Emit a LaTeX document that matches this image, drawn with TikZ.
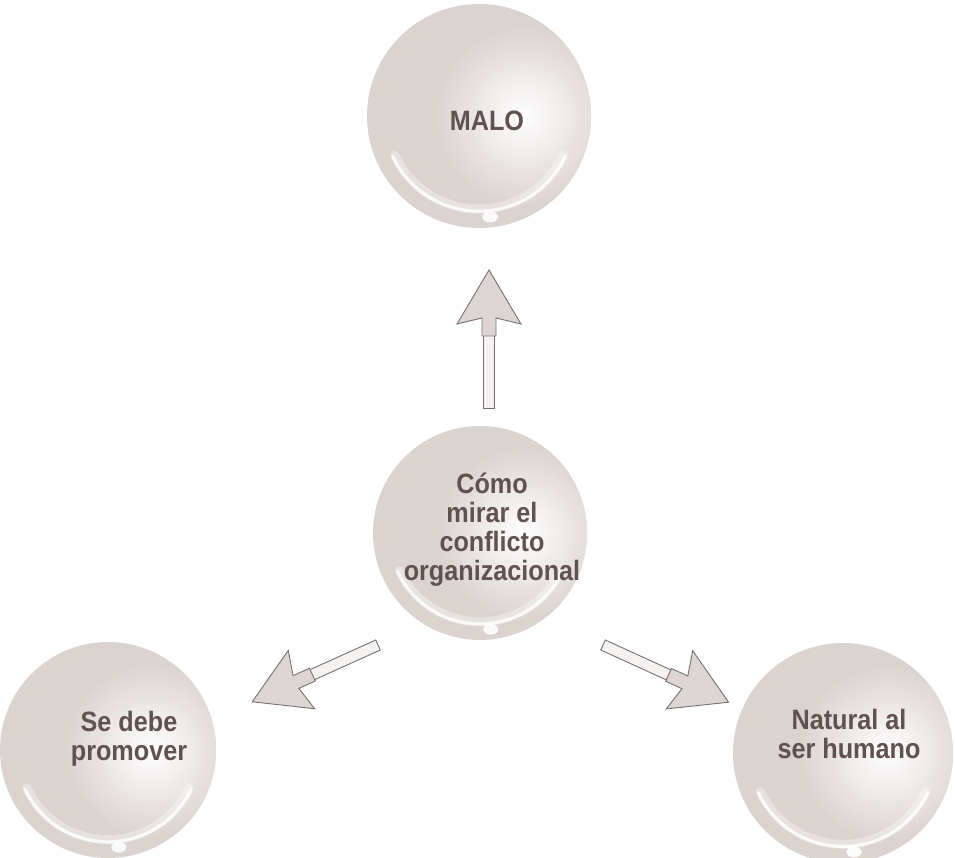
\documentclass[tikz,border=0pt]{standalone}
\usepackage{fontspec}
\setmainfont{Liberation Sans}[FakeStretch=0.9]
\usetikzlibrary{calc}
\definecolor{spherebase}{RGB}{219,211,208}
\definecolor{txt}{RGB}{96,82,80}
\definecolor{arrowline}{RGB}{120,112,112}
\definecolor{shaftfill}{RGB}{245,242,241}
\definecolor{headfill}{RGB}{220,213,211}
\newcommand\spheredeco[2]{%
  \begin{scope}
    \clip (#1) circle[radius=#2];
    \shade[inner color=white, outer color=spherebase] ($(#1)+(0.40*#2,0.0*#2)$) circle[radius=0.8*#2];
    \draw[white, line width=9pt, opacity=.35, line cap=round] ($(#1)+(205:0.83*#2)$) arc[start angle=205, end angle=335, radius=0.83*#2];
    \draw[white, line width=3pt, opacity=.85, line cap=round] ($(#1)+(205:0.85*#2)$) arc[start angle=205, end angle=335, radius=0.85*#2];
    \fill[white, opacity=.9] ($(#1)+(0.1*#2,-0.9*#2)$) ellipse[x radius=0.07*#2, y radius=0.05*#2];
  \end{scope}}
\tikzset{
  sphere/.style={circle, fill=spherebase, inner sep=0pt, minimum size=#1},
  lbl/.style={font=\fontsize{28}{29}\selectfont\bfseries, text=txt, align=center, inner sep=0pt},
  arrowedge/.style={draw=arrowline, line width=0.9pt, line join=miter},
  blockarrow/.pic={
    \draw[arrowedge, fill=shaftfill] (0,-5.5) -- (73,-5.5) -- (73,5.5) -- (0,5.5) -- cycle;
    \draw[arrowedge, fill=headfill] (72,-7) -- (90,-7) -- (84,-32) -- (138,0) -- (84,32) -- (90,7) -- (72,7) -- cycle;
  }
}
\begin{document}
\begin{tikzpicture}[x=1pt, y=1pt]
\useasboundingbox (0,0) rectangle (955,857);
% spheres
\node[sphere=224pt] (malo) at (479,741) {};
\spheredeco{malo}{112}
\node[sphere=214pt] (como) at (480,324) {};
\spheredeco{como}{107}
\node[sphere=216pt] (promo) at (108,107) {};
\spheredeco{promo}{108}
\node[sphere=220pt] (natural) at (843,104) {};
\spheredeco{natural}{110}
% labels
\node[lbl] (maloT) at (487,736) {MALO};
\node[lbl] (comoT) at (492,327) {Cómo\\mirar el\\conflicto\\organizacional};
\node[lbl] (promoT) at (129,118) {Se debe\\promover};
\node[lbl] (naturalT) at (849,123) {Natural al\\ser humano};
% arrows
\coordinate (upTail) at (489,449);
\coordinate (leftTail) at (378,212);
\coordinate (rightTail) at (603,212);
\path (upTail) pic[rotate=90] {blockarrow};
\path (leftTail) pic[rotate=204.3] {blockarrow};
\path (rightTail) pic[rotate=-24.5] {blockarrow};
\end{tikzpicture}
\end{document}
